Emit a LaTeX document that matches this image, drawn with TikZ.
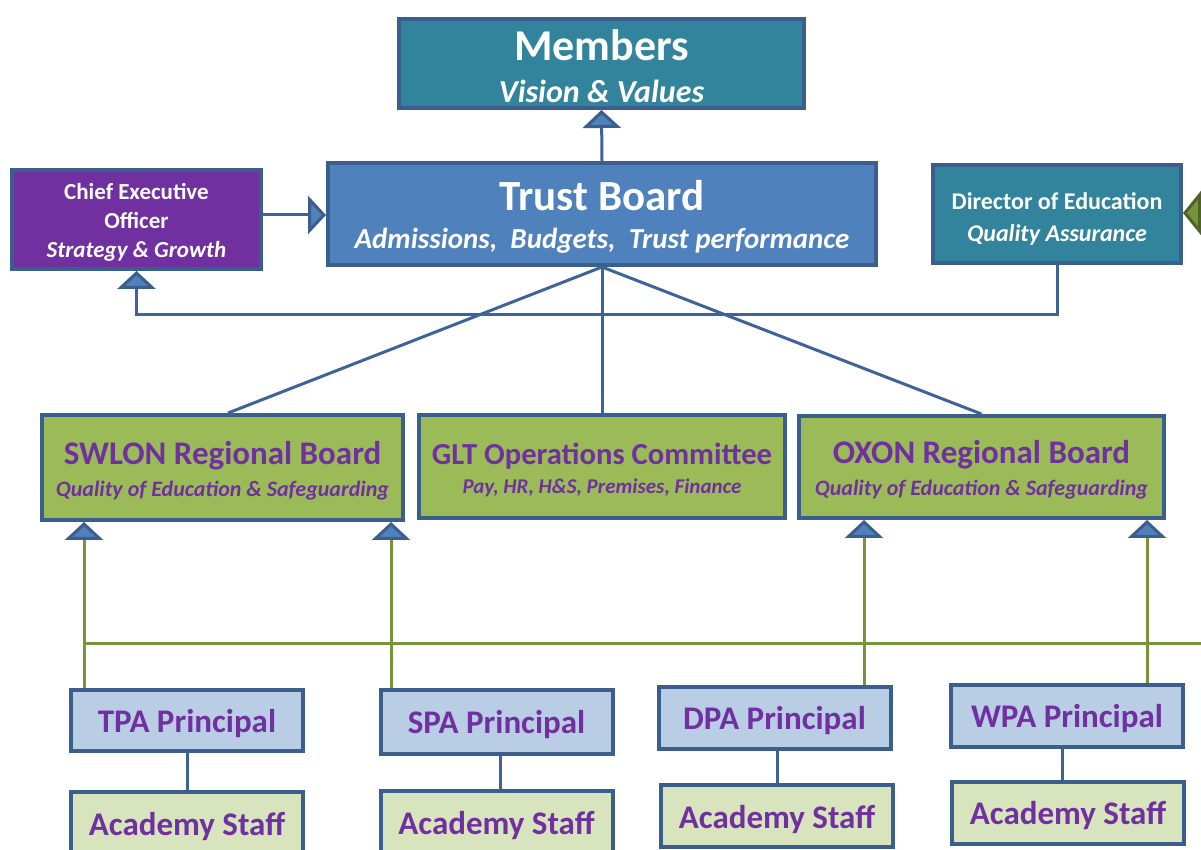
\documentclass[tikz,border=0pt]{standalone}
\usepackage{fontspec}
\setmainfont{Carlito}
\usetikzlibrary{arrows.meta}
\definecolor{bordc}{HTML}{3B5E8C}
\definecolor{linec}{HTML}{3E6497}
\definecolor{tealc}{HTML}{31849B}
\definecolor{trustblue}{HTML}{4F81BD}
\definecolor{purplec}{HTML}{7030A0}
\definecolor{greenbox}{HTML}{9BBB59}
\definecolor{lightblue}{HTML}{B9CDE5}
\definecolor{lightgreen}{HTML}{D7E4BD}
\definecolor{greenl}{HTML}{77933C}
\definecolor{greendark}{HTML}{4F6228}
\newcommand\lowr[2][1.5pt]{\raisebox{-#1}[\height][\depth]{#2}}
\begin{document}
\begin{tikzpicture}[x=0.5pt,y=-0.5pt,
  box/.style={draw=bordc, line width=2pt, inner sep=0pt, align=center, rectangle},
  conn/.style={draw=linec, line width=1.5pt},
  gconn/.style={draw=greenl, line width=1.5pt},
  tri/.tip={Triangle[length=9pt,width=19pt,fill=trustblue,color=bordc]},
  gtri/.tip={Triangle[length=9pt,width=22pt,fill=greenl,color=greendark]},
  princ/.style={box, fill=lightblue, text=purplec, minimum width=116pt, font=\bfseries\fontsize{16.5}{20}\selectfont},
  staff/.style={box, fill=lightgreen, text=purplec, minimum width=116pt, minimum height=31pt, font=\bfseries\fontsize{16.5}{20}\selectfont},
  region/.style={box, fill=greenbox, text=purplec}
]
\useasboundingbox (0,0) rectangle (1201,850);
\clip (0,0) rectangle (1201,850);
\fill[white] (0,0) rectangle (1201,850);

% top boxes
\node[box, fill=tealc, text=white, minimum width=202.5pt, minimum height=44.5pt,
  font=\bfseries\fontsize{16}{21}\selectfont] (members) at (601.5,63.5)
  {\lowr{\fontsize{22}{21}\selectfont Members}\\\lowr{\itshape Vision \& Values}};
\node[box, fill=trustblue, text=white, minimum width=274pt, minimum height=51pt,
  font=\bfseries\fontsize{14.5}{19}\selectfont] (trust) at (602,214)
  {\lowr{\fontsize{21.5}{19}\selectfont Trust Board}\\\lowr{\itshape Admissions,\ \ Budgets,\ \ Trust\ performance}};
\node[box, fill=purplec, text=white, minimum width=124.5pt, minimum height=49.5pt,
  font=\bfseries\fontsize{11.5}{14.5}\selectfont] (ceo) at (136.5,219.5)
  {\lowr{Chief Executive}\\\lowr{Officer}\\\lowr{\itshape Strategy \& Growth}};
\node[box, fill=tealc, text=white, minimum width=124pt, minimum height=49pt,
  font=\bfseries\fontsize{12}{16}\selectfont] (dir) at (1057,214)
  {\lowr[2.5pt]{Director of Education}\\\lowr[2.5pt]{\itshape Quality Assurance}};

% regional boards
\node[region, minimum width=180.5pt, minimum height=52.5pt,
  font=\bfseries\fontsize{11}{16}\selectfont] (swlon) at (222.5,467.5)
  {\lowr{\fontsize{16.5}{16}\selectfont SWLON Regional Board}\\\lowr{\itshape Quality of Education \& Safeguarding}};
\node[region, minimum width=183pt, minimum height=51.5pt,
  font=\bfseries\fontsize{10.5}{14.5}\selectfont] (glt) at (602,466.5)
  {\lowr{\fontsize{15.3}{14}\selectfont GLT Operations Committee}\\\lowr{\itshape Pay, HR, H\&S,\ Premises, Finance}};
\node[region, minimum width=182.5pt, minimum height=51pt,
  font=\bfseries\fontsize{11}{16}\selectfont] (oxon) at (981.5,467)
  {\lowr{\fontsize{16.5}{16}\selectfont OXON Regional Board}\\\lowr{\itshape Quality of Education \& Safeguarding}};

% principals
\node[princ, minimum height=30.5pt] (tpa) at (187,720.5) {\lowr{TPA Principal}};
\node[princ, minimum height=32pt] (spa) at (496.5,722) {\lowr{SPA Principal}};
\node[princ, minimum height=31pt] (dpa) at (774.5,718) {\lowr{DPA Principal}};
\node[princ, minimum height=31pt] (wpa) at (1067,716) {\lowr{WPA Principal}};

% academy staff
\node[staff] (st1) at (187,823) {\lowr{Academy Staff}};
\node[staff] (st2) at (496.5,822) {\lowr{Academy Staff}};
\node[staff] (st3) at (777,816) {\lowr{Academy Staff}};
\node[staff] (st4) at (1068,813) {\lowr{Academy Staff}};

% helper coordinates
\coordinate (elbow) at (0,315);
\coordinate (dirin) at (1215,213);
\coordinate (g1) at (84,643);
\coordinate (g2) at (391,643);
\coordinate (g3) at (864,643);
\coordinate (g4) at (1147,643);
\coordinate (busR) at (1215,643);

% blue connectors
\draw[conn, -tri] (trust.north) -- (members.south);
\draw[conn, -tri] (ceo.east |- 0,215) -- (trust.west |- 0,215);
\draw[conn, -tri] (dir.south) -- (dir.south |- elbow) -- (ceo.south |- elbow) -- (ceo.south);
\draw[conn, -gtri] (dirin) -- (dir.east |- dirin);
\draw[conn] (trust.south) -- ([xshift=2.75pt]swlon.north);
\draw[conn] (trust.south) -- (glt.north);
\draw[conn] (trust.south) -- (oxon.north);

% green connectors
\draw[gconn] (g1) -- (busR);
\draw[gconn, -tri] (tpa.north -| g1) -- (swlon.south -| g1);
\draw[gconn, -tri] (spa.north -| g2) -- (swlon.south -| g2);
\draw[gconn, -tri] (dpa.north -| g3) -- (oxon.south -| g3);
\draw[gconn, -tri] (wpa.north -| g4) -- (oxon.south -| g4);

% principal to staff
\draw[conn] (tpa.south) -- (tpa.south |- st1.north);
\draw[conn] ([xshift=2pt]spa.south) -- ([xshift=2pt]spa.south |- st2.north);
\draw[conn] ([xshift=1.25pt]dpa.south) -- ([xshift=1.25pt]dpa.south |- st3.north);
\draw[conn] ([xshift=-2.5pt]wpa.south) -- ([xshift=-2.5pt]wpa.south |- st4.north);
\end{tikzpicture}
\end{document}
